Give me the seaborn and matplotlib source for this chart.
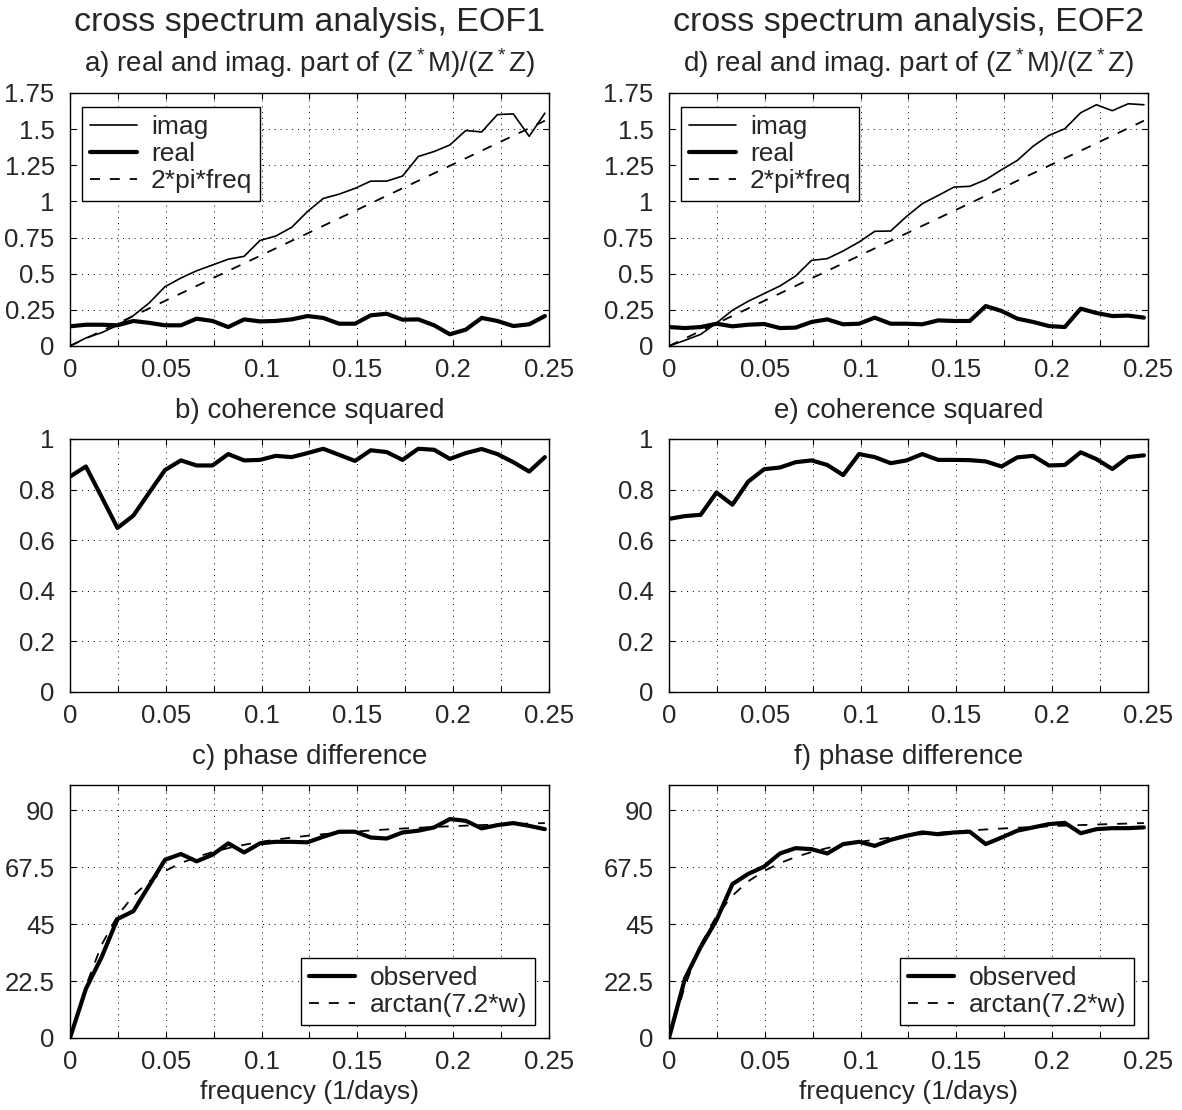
import matplotlib
matplotlib.use("Agg")
import matplotlib.pyplot as plt
import seaborn as sns
import numpy as np

# frequency grid (1/days)
freq = [0.0, 0.0083, 0.0165, 0.0248, 0.0331, 0.0413, 0.0496, 0.0579, 0.0661, 0.0744,
        0.0826, 0.0909, 0.0992, 0.1074, 0.1157, 0.1240, 0.1322, 0.1405, 0.1488, 0.1570,
        0.1653, 0.1736, 0.1818, 0.1901, 0.1983, 0.2066, 0.2149, 0.2231, 0.2314, 0.2397,
        0.2479]

# reference curves from the legends (2*pi*freq and arctan(7.2*w) in degrees)
two_pi_freq = [0.0, 0.0519, 0.1039, 0.1558, 0.2077, 0.2596, 0.3116, 0.3635, 0.4154, 0.4674,
               0.5193, 0.5712, 0.6231, 0.6751, 0.7270, 0.7789, 0.8308, 0.8828, 0.9347, 0.9866,
               1.0386, 1.0905, 1.1424, 1.1943, 1.2463, 1.2982, 1.3501, 1.4021, 1.4540, 1.5059,
               1.5578]
arctan_fit = [0.0, 20.50, 36.79, 48.28, 56.23, 61.86, 65.97, 69.09, 71.51, 73.45,
              75.03, 76.33, 77.43, 78.37, 79.18, 79.89, 80.51, 81.06, 81.55, 81.99,
              82.38, 82.74, 83.07, 83.37, 83.64, 83.89, 84.13, 84.34, 84.54, 84.73,
              84.91]

# EOF1
imag1 = [0.0, 0.055, 0.092, 0.143, 0.21, 0.297, 0.41, 0.47, 0.52, 0.56,
         0.60, 0.62, 0.73, 0.76, 0.82, 0.93, 1.02, 1.05, 1.09, 1.14,
         1.14, 1.175, 1.31, 1.345, 1.39, 1.49, 1.48, 1.60, 1.605, 1.45,
         1.61]
real1 = [0.136, 0.147, 0.147, 0.143, 0.173, 0.16, 0.143, 0.143, 0.189, 0.173,
         0.131, 0.184, 0.17, 0.173, 0.184, 0.207, 0.194, 0.154, 0.154, 0.212,
         0.223, 0.182, 0.184, 0.143, 0.081, 0.113, 0.194, 0.173, 0.138, 0.15,
         0.207]
coh1 = [0.851, 0.891, 0.771, 0.648, 0.697, 0.787, 0.877, 0.915, 0.895, 0.895,
        0.94, 0.915, 0.917, 0.933, 0.928, 0.944, 0.961, 0.937, 0.913, 0.955,
        0.948, 0.917, 0.961, 0.957, 0.921, 0.944, 0.96, 0.94, 0.908, 0.871,
        0.928]
phase1 = [0.0, 19.4, 31.9, 47.0, 50.1, 60.2, 70.4, 72.7, 69.8, 72.4,
          76.9, 73.3, 76.9, 77.5, 77.5, 77.3, 79.5, 81.5, 81.5, 79.2,
          78.8, 81.2, 81.9, 83.2, 86.5, 85.8, 82.8, 84.1, 84.9, 83.8,
          82.5]

# EOF2
imag2 = [0.0, 0.039, 0.08, 0.159, 0.247, 0.309, 0.362, 0.415, 0.484, 0.592,
         0.604, 0.657, 0.719, 0.793, 0.795, 0.896, 0.984, 1.041, 1.099, 1.104,
         1.15, 1.219, 1.283, 1.382, 1.456, 1.502, 1.613, 1.668, 1.627, 1.675,
         1.668]
real2 = [0.131, 0.124, 0.131, 0.154, 0.136, 0.147, 0.152, 0.124, 0.127, 0.166,
         0.184, 0.15, 0.154, 0.196, 0.154, 0.154, 0.15, 0.177, 0.173, 0.173,
         0.276, 0.242, 0.189, 0.166, 0.138, 0.131, 0.258, 0.228, 0.207, 0.21,
         0.196]
coh2 = [0.684, 0.695, 0.70, 0.788, 0.74, 0.831, 0.88, 0.887, 0.908, 0.915,
        0.897, 0.857, 0.94, 0.928, 0.904, 0.915, 0.94, 0.917, 0.917, 0.916,
        0.911, 0.891, 0.927, 0.933, 0.895, 0.897, 0.947, 0.92, 0.881, 0.928,
        0.935]
phase2 = [0.0, 23.4, 35.9, 46.6, 60.8, 64.8, 67.7, 72.9, 75.0, 74.6,
          72.9, 76.6, 77.5, 75.9, 78.3, 79.9, 81.2, 80.5, 81.2, 81.5,
          76.6, 79.2, 81.9, 83.2, 84.5, 85.0, 80.9, 82.5, 82.9, 82.9,
          83.2]

x_ticks = [0, 0.025, 0.05, 0.075, 0.1, 0.125, 0.15, 0.175, 0.2, 0.225, 0.25]
x_labels = ['0', '', '0.05', '', '0.1', '', '0.15', '', '0.2', '', '0.25']

sns.set_style("ticks")
plt.rcParams['font.family'] = ['Liberation Sans', 'DejaVu Sans']
plt.rcParams['mathtext.fontset'] = 'custom'
plt.rcParams['mathtext.rm'] = 'Liberation Sans'
plt.rcParams['mathtext.it'] = 'Liberation Sans'

fig = plt.figure(figsize=(11.82, 11.10), dpi=100)

lefts = [0.0592, 0.566]
bottoms = [0.6883, 0.3766, 0.0649]
w, h = 0.4052, 0.228

TICK_FS = 18.5
LEG_FS = 19
DASH = (5.5, 5.5)


def style_axis(ax):
    ax.set_xlim(0, 0.25)
    ax.set_xticks(x_ticks)
    ax.set_xticklabels(x_labels)
    ax.tick_params(direction='in', top=True, right=True, length=4, width=0.8,
                   labelsize=TICK_FS, color='k')
    ax.tick_params(axis='y', pad=11)
    ax.tick_params(axis='x', pad=9)
    for s in ax.spines.values():
        s.set_color('k')
        s.set_linewidth(1.0)
    ax.grid(True, color='k', linestyle=(0, (1, 5)), linewidth=0.7)
    ax.set_xlabel('')
    ax.set_ylabel('')


def leg(ax, loc, anchor):
    lg = ax.legend(loc=loc, bbox_to_anchor=anchor, borderaxespad=0, fontsize=LEG_FS,
                   frameon=True, fancybox=False, framealpha=1, edgecolor='k',
                   handlelength=1.75, handletextpad=0.55, labelspacing=0.12,
                   borderpad=0.3)
    lg.get_frame().set_linewidth(1.0)


columns = [
    ('cross spectrum analysis, EOF1', 'a', 'b', 'c', imag1, real1, coh1, phase1),
    ('cross spectrum analysis, EOF2', 'd', 'e', 'f', imag2, real2, coh2, phase2),
]

for ci, (title, la, lb, lc, imag, real, coh, phase) in enumerate(columns):
    left = lefts[ci]
    fig.text(left + w / 2, 1 - 22 / 1110, title, ha='center', va='center', fontsize=24.5)

    # top: real and imaginary part
    ax = fig.add_axes([left, bottoms[0], w, h])
    sns.lineplot(x=freq, y=imag, ax=ax, color='k', linewidth=1.2, label='imag')
    sns.lineplot(x=freq, y=real, ax=ax, color='k', linewidth=3.0, label='real')
    sns.lineplot(x=freq, y=two_pi_freq, ax=ax, color='k', linewidth=1.3,
                 label='2*pi*freq')
    ax.lines[-1].set_dashes(DASH)
    style_axis(ax)
    ax.set_ylim(0, 1.75)
    ax.set_yticks([0, 0.25, 0.5, 0.75, 1, 1.25, 1.5, 1.75])
    ax.set_yticklabels(['0', '0.25', '0.5', '0.75', '1', '1.25', '1.5', '1.75'])
    ax.set_title(la + r') real and imag. part of $\mathregular{(Z^*M)/(Z^*Z)}$',
                 fontsize=20, pad=15)
    leg(ax, 'upper left', (0.026, 0.945))

    # middle: coherence squared
    ax = fig.add_axes([left, bottoms[1], w, h])
    sns.lineplot(x=freq, y=coh, ax=ax, color='k', linewidth=3.0)
    style_axis(ax)
    ax.set_ylim(0, 1)
    ax.set_yticks([0, 0.2, 0.4, 0.6, 0.8, 1])
    ax.set_yticklabels(['0', '0.2', '0.4', '0.6', '0.8', '1'])
    ax.set_title(lb + ') coherence squared', fontsize=20, pad=15)

    # bottom: phase difference
    ax = fig.add_axes([left, bottoms[2], w, h])
    sns.lineplot(x=freq, y=phase, ax=ax, color='k', linewidth=3.0, label='observed')
    sns.lineplot(x=freq, y=arctan_fit, ax=ax, color='k', linewidth=1.3,
                 label='arctan(7.2*w)')
    ax.lines[-1].set_dashes(DASH)
    style_axis(ax)
    ax.set_ylim(0, 100)
    ax.set_yticks([0, 22.5, 45, 67.5, 90])
    ax.set_yticklabels(['0', '22.5', '45', '67.5', '90'])
    ax.set_title(lc + ') phase difference', fontsize=20, pad=15)
    ax.set_xlabel('frequency (1/days)', fontsize=19, labelpad=4)
    leg(ax, 'lower right', (0.971, 0.051))

fig.savefig('out.png', dpi=100)
